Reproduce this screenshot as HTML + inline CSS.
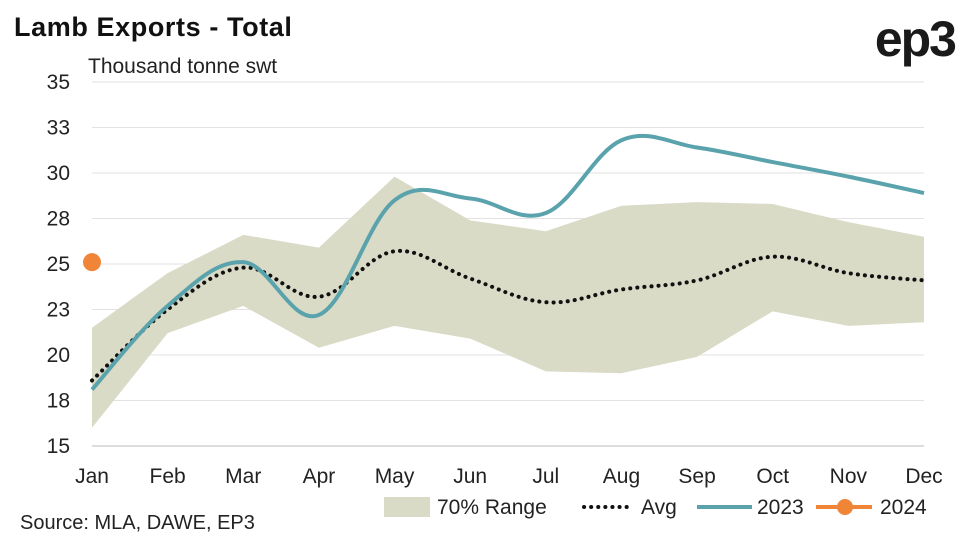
<!DOCTYPE html>
<html><head><meta charset="utf-8"><style>
html,body{margin:0;padding:0;background:#fff;width:962px;height:541px;overflow:hidden;font-family:"Liberation Sans",sans-serif;}
</style></head><body>
<svg id="c" width="962" height="541" xmlns="http://www.w3.org/2000/svg">
<text x="14" y="36" font-size="27" font-weight="bold" fill="#111" letter-spacing="0.6">Lamb Exports - Total</text>
<text x="955" y="56" font-size="50" font-weight="bold" fill="#1a1a1a" text-anchor="end" letter-spacing="-2">ep3</text>
<text x="88" y="73" font-size="21" fill="#222">Thousand tonne swt</text>
<text x="20" y="529" font-size="20" fill="#222">Source: MLA, DAWE, EP3</text>
<g id="grid"></g><g id="plot"></g><g id="axes"></g>
<g>
<rect x="384" y="497" width="46" height="20" fill="#d9dbc6"/>
<text x="437" y="514" font-size="21" fill="#222">70% Range</text>
<line x1="584" y1="507" x2="632" y2="507" stroke="#111" stroke-width="4" stroke-dasharray="0.1 7" stroke-linecap="round"/>
<text x="641" y="514" font-size="21" fill="#222">Avg</text>
<line x1="697" y1="507" x2="752" y2="507" stroke="#5aa3ad" stroke-width="4"/>
<text x="757" y="514" font-size="21" fill="#222">2023</text>
<line x1="816" y1="507" x2="872" y2="507" stroke="#f08537" stroke-width="4"/>
<circle cx="845" cy="507" r="8" fill="#f08537"/>
<text x="880" y="514" font-size="21" fill="#222">2024</text>
</g>
</svg>
<script>
const months=["Jan","Feb","Mar","Apr","May","Jun","Jul","Aug","Sep","Oct","Nov","Dec"];
const yTicks=[15,17.5,20,22.5,25,27.5,30,32.5,35];
const rangeUpper=[21.5,24.5,26.6,25.9,29.8,27.4,26.8,28.2,28.4,28.3,27.3,26.5];
const rangeLower=[16.0,21.2,22.7,20.4,21.6,20.9,19.1,19.0,19.9,22.4,21.6,21.8];
const avg=[18.6,22.5,24.8,23.2,25.7,24.2,22.9,23.6,24.1,25.4,24.5,24.1];
const s2023=[18.1,22.7,25.1,22.2,28.5,28.6,27.8,31.8,31.4,30.6,29.8,28.9];
const s2024=[25.1];
const NS="http://www.w3.org/2000/svg";
const X=i=>92+i*(924-92)/11;
const Y=v=>446-(v-15)*(446-82)/20;
function mk(t,a,p){const e=document.createElementNS(NS,t);for(const k in a)e.setAttribute(k,a[k]);document.getElementById(p).appendChild(e);return e;}
function smooth(vals){const p=vals.map((v,i)=>[X(i),Y(v)]);let d="M"+p[0];for(let i=0;i<p.length-1;i++){const p0=p[i-1]||p[i],p1=p[i],p2=p[i+1],p3=p[i+2]||p2;const t=0.18;d+=`C${p1[0]+(p2[0]-p0[0])*t},${p1[1]+(p2[1]-p0[1])*t} ${p2[0]-(p3[0]-p1[0])*t},${p2[1]-(p3[1]-p1[1])*t} ${p2[0]},${p2[1]}`;}return d;}
yTicks.forEach(v=>{
const g=mk("line",{x1:92,x2:924,y1:Y(v),y2:Y(v),stroke:v===15?"#bbb":"#e2e2e2","stroke-width":1},"grid");


const t=mk("text",{x:70,y:Y(v)+7,"font-size":21,fill:"#222","text-anchor":"end"},"axes");t.textContent=Math.round(v);


});
months.forEach((m,i)=>{
const t=mk("text",{x:X(i),y:483,"font-size":21,fill:"#222","text-anchor":"middle"},"axes");t.textContent=m;


});
let pts=rangeUpper.map((v,i)=>X(i)+","+Y(v)).concat(rangeLower.map((v,i)=>X(i)+","+Y(v)).reverse());
const band=mk("polygon",{points:pts.join(" "),fill:"#d9dbc6"},"plot");


const a=mk("path",{d:smooth(avg),fill:"none",stroke:"#111","stroke-width":4,"stroke-dasharray":"0.1 7","stroke-linecap":"round"},"plot");


const l=mk("path",{d:smooth(s2023),fill:"none",stroke:"#5aa3ad","stroke-width":4},"plot");


s2024.forEach((v,i)=>{const c=mk("circle",{cx:X(i),cy:Y(v),r:9,fill:"#f08537"},"plot");

});
</script>
</body></html>
